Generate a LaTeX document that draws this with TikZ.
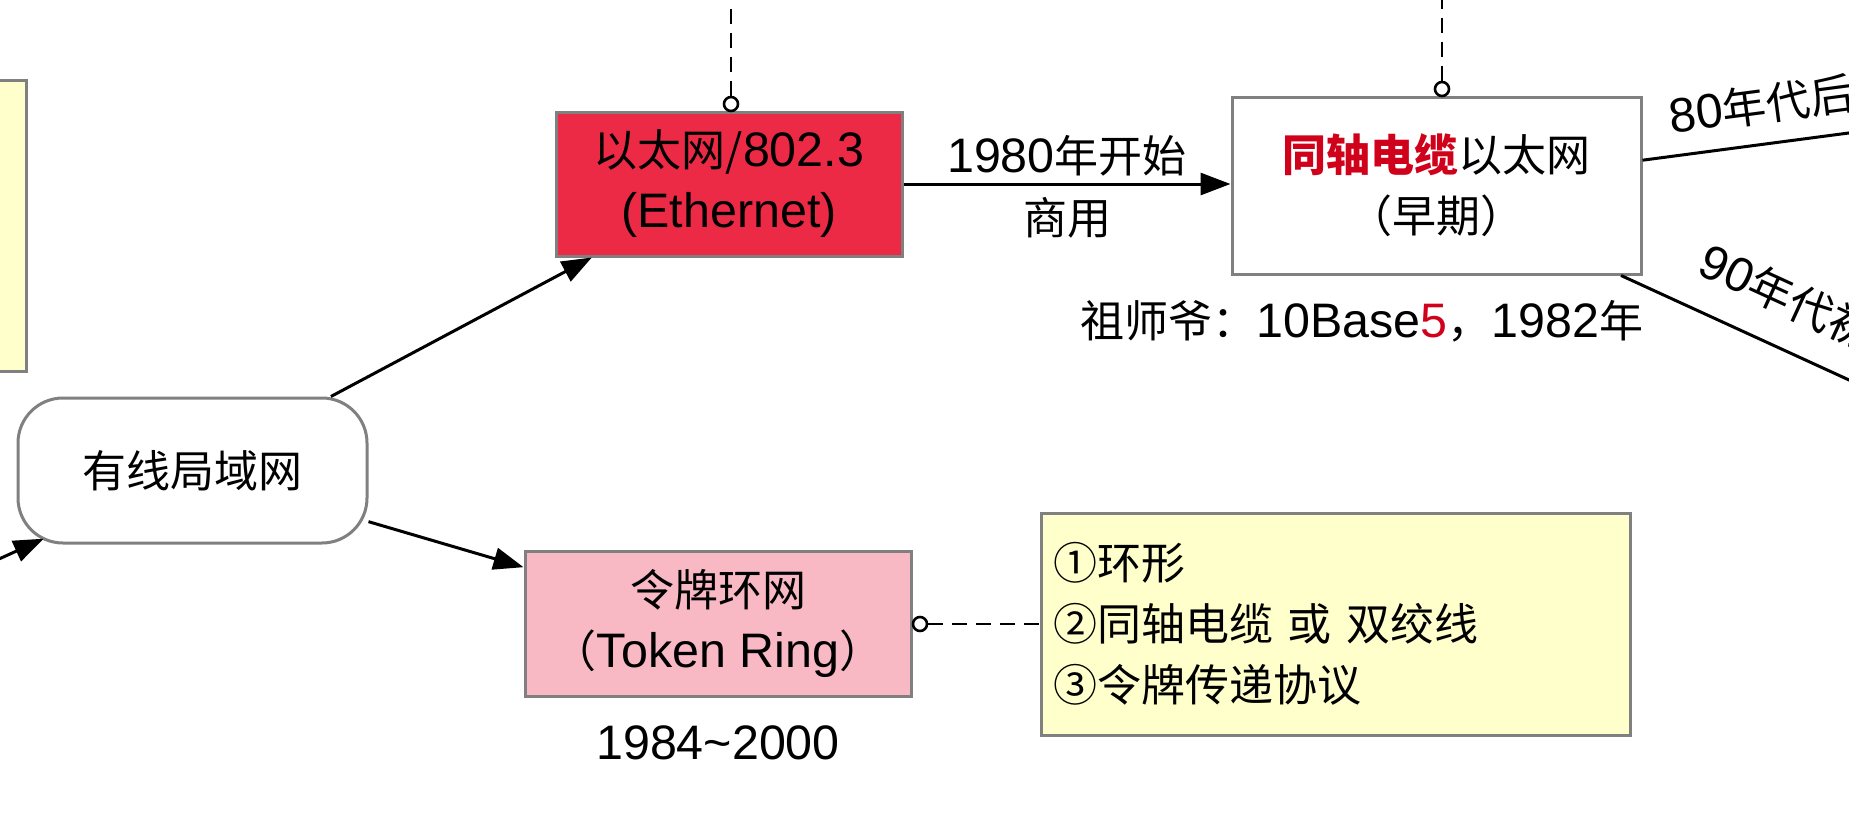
\documentclass[tikz,border=0pt]{standalone}
\usepackage{fontspec}
\setmainfont{Noto Sans CJK SC}
\newfontfamily\lat[Scale=1.1]{Liberation Sans}
\usetikzlibrary{arrows.meta}
\definecolor{ethred}{RGB}{236,42,70}
\definecolor{tokpink}{RGB}{248,185,196}
\definecolor{noteyel}{RGB}{255,255,204}
\definecolor{bordgray}{RGB}{128,128,128}
\definecolor{txtred}{RGB}{208,2,27}
\begin{document}
\begin{tikzpicture}[x=1pt,y=-1pt,
  every node/.style={font=\fontsize{44}{61}\selectfont},
  box/.style={draw=bordgray,line width=3pt,rectangle,inner sep=0pt,align=center},
  conn/.style={line width=3pt,draw=black},
  arr/.style={conn,-{Triangle[length=30pt,width=22pt]}},
  dashconn/.style={line width=2.6pt,dash pattern=on 15pt off 9pt},
  pin/.style={circle,draw=black,line width=2.6pt,fill=white,minimum size=14pt,inner sep=0pt},
  lbl/.style={inner sep=0pt}]
\useasboundingbox (0,0) rectangle (1849,822);

% nodes
\node[box,fill=noteyel,minimum width=60pt,minimum height=291pt] (leftnote) at (-4,225.5) {};
\node[box,fill=ethred,minimum width=346pt,minimum height=144pt] (eth) at (729,184)
  {以太网/{\lat 802.3}\\{\lat (Ethernet)}};
\node[box,fill=white,minimum width=409pt,minimum height=177pt] (coax) at (1436.5,185.5)
  {{\color{txtred}\bfseries 同轴电缆}以太网\\（早期）};
\node[box,fill=white,rounded corners=45pt,minimum width=349pt,minimum height=145pt] (wired) at (192.5,470.5)
  {有线局域网};
\node[box,fill=tokpink,minimum width=386pt,minimum height=145pt] (token) at (718,623.5)
  {令牌环网\\（{\lat Token Ring}）};
\node[box,fill=noteyel,minimum width=589pt,minimum height=222pt,align=left,text width=565pt] (note2) at (1335.5,624)
  {①环形\\②同轴电缆 或 双绞线\\③令牌传递协议};

% labels
\node[lbl] (zsy) at (1362,321) {祖师爷：{\lat 10Base}{\color{txtred}\lat 5}，{\lat 1982}年};
\node[lbl] (yrs) at (718,743) {{\lat 1984\textasciitilde 2000}};

% pins and dashed links
\node[pin] (p1) at (731,104) {};
\node[pin] (p2) at (1442,89) {};
\node[pin] (p3) at (920,624) {};
\coordinate (t1) at (731,-5);
\coordinate (t2) at (1442,-5);
\draw[dashconn] (p1) -- (t1);
\draw[dashconn] (p2) -- (t2);
\draw[dashconn] (p3) -- (note2.west);

% connectors
\draw[arr] (eth.east) -- (eth.east -| coax.west)
  node[lbl,pos=0.5,yshift=28pt] {{\lat 1980}年开始}
  node[lbl,pos=0.5,yshift=-34pt] {商用};
\draw[arr] (wired) -- (eth);
\draw[arr] (wired) -- (token);
\coordinate (inL) at (-12,564);
\draw[arr,shorten >=-14pt] (inL) -- (wired);

\coordinate (r80) at (1860,131.5);
\coordinate (r90) at (1860,385);
\draw[conn] (coax.7) -- (r80)
  node[lbl,sloped,pos=0.14,anchor=south west,inner ysep=18pt] {{\lat 80}年代后};
\draw[conn] (coax.-26) -- (r90)
  node[lbl,sloped,pos=0.25,anchor=south west,inner ysep=28pt] {{\lat 90}年代初};
\end{tikzpicture}
\end{document}
